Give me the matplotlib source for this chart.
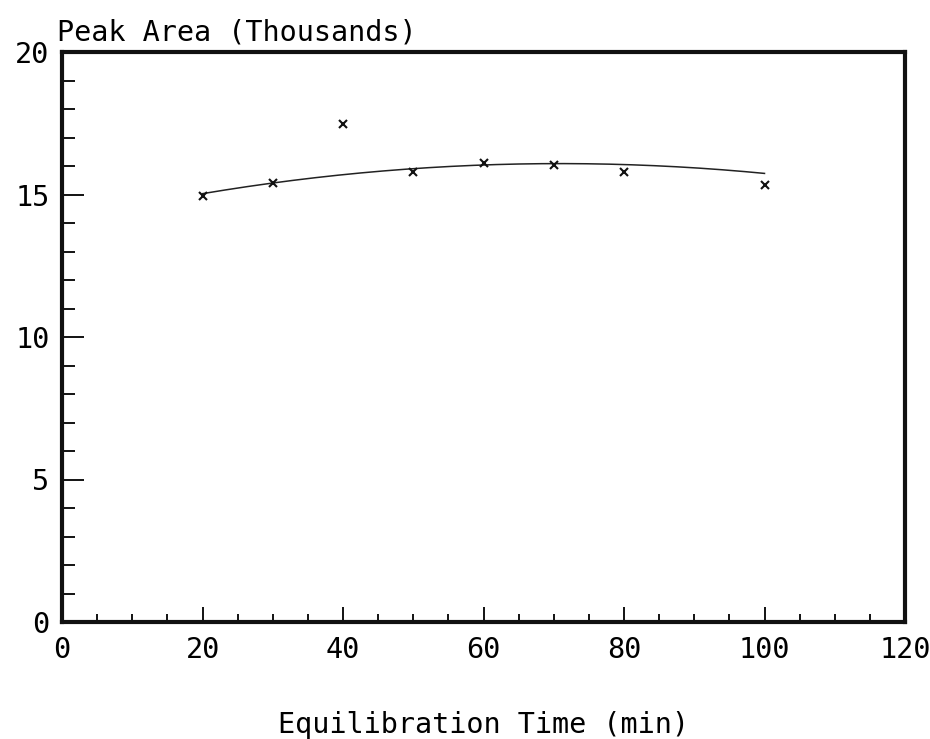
import matplotlib
matplotlib.use("Agg")
import matplotlib.pyplot as plt
from matplotlib.ticker import MultipleLocator
import numpy as np

# datos medidos (area de pico en miles)
tiempo = [20, 30, 40, 50, 60, 70, 80, 100]
area = [14.95, 15.42, 17.47, 15.79, 16.12, 16.04, 15.80, 15.33]

# curva de tendencia
t_curva = [20, 30, 40, 50, 60, 70, 80, 90, 100]
a_curva = [15.0, 15.42, 15.72, 15.92, 16.04, 16.07, 16.02, 15.92, 15.77]

x_ticks = [0, 20, 40, 60, 80, 100, 120]
y_ticks = [0, 5, 10, 15, 20]

plt.rcParams['font.family'] = ['DejaVu Sans Mono']
fs = 20.5

fig = plt.figure(figsize=(9.3, 7.39), dpi=100)
ax = fig.add_axes([62/930, 1-622/739, (905-62)/930, (622-52)/739])

# curva suave a partir de los puntos leidos
coef = np.polyfit(t_curva, a_curva, 2)
xs = np.linspace(t_curva[0], t_curva[-1], 200)
ax.plot(xs, np.polyval(coef, xs), color='#222222', lw=1.1)

ax.plot(tiempo, area, linestyle='none', marker='x', color='#111111',
        markersize=6, markeredgewidth=1.5)

ax.set_xlim(0, 120)
ax.set_ylim(0, 20)
ax.set_xticks(x_ticks)
ax.set_yticks(y_ticks)
ax.xaxis.set_minor_locator(MultipleLocator(5))
ax.yaxis.set_minor_locator(MultipleLocator(1))

ax.tick_params(axis='x', which='major', direction='in', length=11, width=1.3,
               pad=10, labelsize=fs, top=False)
ax.tick_params(axis='x', which='minor', direction='in', length=6, width=1.3, top=False)
ax.tick_params(axis='y', which='major', direction='in', length=16, width=1.3,
               pad=9, labelsize=fs, right=False)
ax.tick_params(axis='y', which='minor', direction='in', length=9, width=1.3, right=False)

for s in ax.spines.values():
    s.set_linewidth(3)
    s.set_color('#111111')

fig.text(57/930, 1-40/739, 'Peak Area (Thousands)', fontsize=fs,
         ha='left', va='baseline')
fig.text(483/930, 1-733/739, 'Equilibration Time (min)', fontsize=fs,
         ha='center', va='baseline')

plt.savefig('out.png', dpi=100)
plt.close()
